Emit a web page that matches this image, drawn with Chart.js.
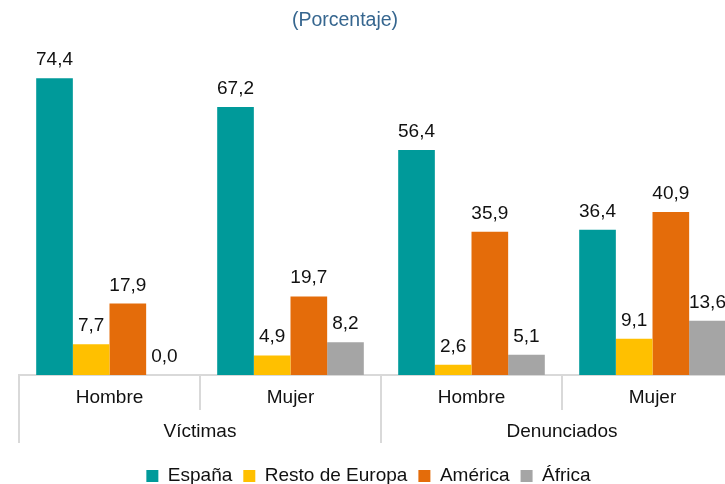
<!DOCTYPE html>
<html>
<head>
<meta charset="utf-8">
<script src="https://cdn.jsdelivr.net/npm/chart.js@4"></script>
<style>
  html, body { margin: 0; padding: 0; width: 725px; height: 484px; overflow: hidden; background: #fff; }
  #c { position: absolute; left: 0; top: 0; }
</style>
</head>
<body>
<canvas id="c" width="745" height="484"></canvas>
<script>
const categories = ['Hombre', 'Mujer', 'Hombre', 'Mujer'];
const groups = ['Víctimas', 'Denunciados'];
const seriesNames = ['España', 'Resto de Europa', 'América', 'África'];
const espana = [74.4, 67.2, 56.4, 36.4];
const restoEuropa = [7.7, 4.9, 2.6, 9.1];
const america = [17.9, 19.7, 35.9, 40.9];
const africa = [0.0, 8.2, 5.1, 13.6];
const subtitleText = '(Porcentaje)';

const colors = ['#009A9A', '#FFC000', '#E46C0A', '#A5A5A5'];
const FONT = "'Liberation Sans', Arial, sans-serif";

const fmt = v => v.toFixed(1).replace('.', ',');

const valueLabels = {
  id: 'valueLabels',
  afterDatasetsDraw(chart) {
    const ctx = chart.ctx;
    ctx.save();
    ctx.font = '19px ' + FONT;
    ctx.fillStyle = '#111';
    ctx.textAlign = 'center';
    ctx.textBaseline = 'alphabetic';
    chart.data.datasets.forEach((ds, i) => {
      const meta = chart.getDatasetMeta(i);
      meta.data.forEach((bar, j) => {
        ctx.fillText(fmt(ds.data[j]), bar.x, bar.y - 13);
      });
    });
    ctx.restore();
  }
};

const subtitle = {
  id: 'subtitleText',
  afterDraw(chart) {
    const ctx = chart.ctx;
    ctx.save();
    ctx.font = '19.5px ' + FONT;
    ctx.fillStyle = '#36668F';
    ctx.textAlign = 'center';
    ctx.textBaseline = 'middle';
    ctx.fillText(subtitleText, 345, 21);
    ctx.restore();
  }
};

const seriesData = [espana, restoEuropa, america, africa];

new Chart(document.getElementById('c'), {
  type: 'bar',
  data: {
    labels: categories,
    datasets: seriesNames.map((name, i) => ({
      label: name,
      data: seriesData[i],
      backgroundColor: colors[i],
      borderWidth: 0,
      barPercentage: 1,
      categoryPercentage: 0.81,
      xAxisID: 'x',
      yAxisID: 'y'
    }))
  },
  options: {
    responsive: false,
    animation: false,
    devicePixelRatio: 1,
    layout: { padding: { top: 56, left: -6, right: 2, bottom: -11.5 } },
    plugins: {
      title: { display: false },
      tooltip: { enabled: false },
      legend: {
        position: 'bottom',
        labels: {
          boxWidth: 12,
          boxHeight: 12,
          padding: 11,
          color: '#111',
          font: { family: FONT, size: 19 }
        }
      }
    },
    scales: {
      y: {
        min: 0,
        max: 80,
        display: true,
        grid: { display: false },
        border: { display: false },
        ticks: { display: false },
        afterFit: s => { s.width = 25; }
      },
      x: {
        type: 'category',
        position: 'bottom',
        weight: 0,
        offset: true,
        grid: {
          offset: true,
          drawOnChartArea: false,
          drawTicks: true,
          tickLength: 35,
          color: '#D9D9D9',
          lineWidth: 2
        },
        border: { display: true, color: '#D9D9D9', width: 2 },
        ticks: {
          padding: -23.4,
          color: '#111',
          font: { family: FONT, size: 19 },
          maxRotation: 0,
          autoSkip: false
        },
        afterFit: s => { s.height = 35; }
      },
      x2: {
        type: 'category',
        position: 'bottom',
        weight: 1,
        labels: groups,
        offset: true,
        grid: {
          offset: true,
          drawOnChartArea: false,
          drawTicks: true,
          tickLength: 33,
          color: '#D9D9D9',
          lineWidth: 2
        },
        border: { display: false },
        ticks: {
          padding: -22.4,
          color: '#111',
          font: { family: FONT, size: 19 },
          maxRotation: 0,
          autoSkip: false
        },
        afterFit: s => { s.height = 45.5; }
      }
    }
  },
  plugins: [valueLabels, subtitle]
});
</script>
</body>
</html>
